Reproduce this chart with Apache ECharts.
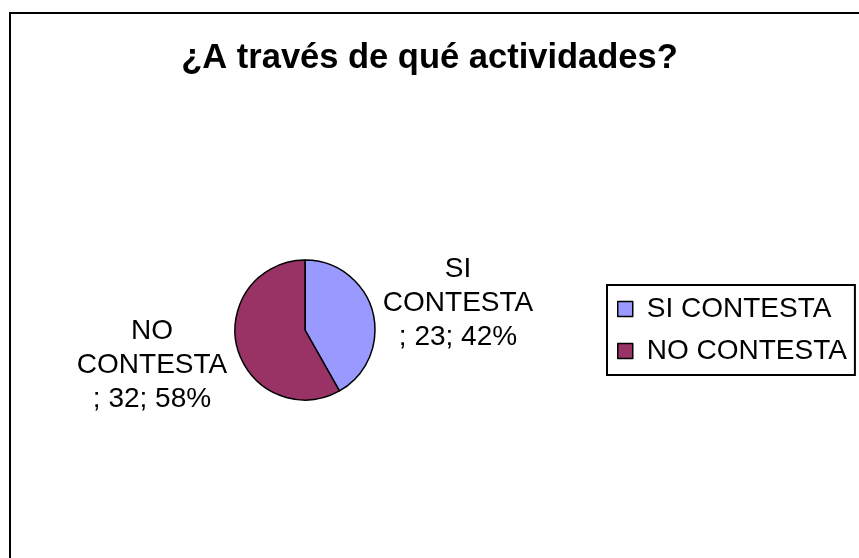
<!DOCTYPE html>
<html>
<head>
<meta charset="utf-8">
<script src="https://cdn.jsdelivr.net/npm/echarts@6/dist/echarts.min.js"></script>
<style>
  html, body { margin: 0; padding: 0; background: #fff; }
  #chart { width: 859px; height: 558px; }
</style>
</head>
<body>
<div id="chart"></div>
<script>
const titleText = '¿A través de qué actividades?';
const categories = ['SI CONTESTA', 'NO CONTESTA'];
const counts = [23, 32];
const colors = ['#9999FF', '#993366'];

const font = 'Liberation Sans, Arial, sans-serif';

const chart = echarts.init(document.getElementById('chart'));

const option = {
  backgroundColor: '#fff',
  animation: false,
  title: {
    text: titleText,
    left: 'center',
    top: 36,
    textStyle: { fontFamily: font, fontSize: 34.5, fontWeight: 'bold', color: '#000' }
  },
  legend: {
    orient: 'vertical',
    left: 607,
    top: 285,
    data: categories,
    icon: 'rect',
    itemWidth: 15,
    itemHeight: 15,
    itemGap: 14,
    padding: [10, 8, 10, 10],
    borderColor: '#000',
    borderWidth: 2,
    itemStyle: { borderColor: '#000', borderWidth: 1.5 },
    textStyle: { fontFamily: font, fontSize: 28, color: '#000', padding: [0, 0, 0, 9] }
  },
  graphic: [{
    type: 'rect',
    shape: { x: 10, y: 13, width: 900, height: 600 },
    style: { fill: 'none', stroke: '#000', lineWidth: 2 },
    silent: true
  }],
  series: [{
    type: 'pie',
    center: [305, 330],
    radius: 70,
    startAngle: 90,
    clockwise: true,
    data: categories.map((name, i) => ({
      name: name,
      value: counts[i],
      itemStyle: { color: colors[i] }
    })),
    itemStyle: { borderColor: '#000', borderWidth: 1.5 },
    label: {
      show: true,
      position: 'outside',
      overflow: 'none',
      distanceToLabelLine: 0,
      fontFamily: font,
      fontSize: 28,
      lineHeight: 34,
      color: '#000',
      formatter: p => p.name.replace(' ', '\n') + '\n; ' + p.value + '; ' + Math.round(p.percent) + '%'
    },
    labelLine: { show: false, length: 52, length2: 35 },
    labelLayout: () => ({ align: 'center', dy: 4 }),
    emphasis: { disabled: true }
  }]
};

chart.setOption(option);
</script>
</body>
</html>
